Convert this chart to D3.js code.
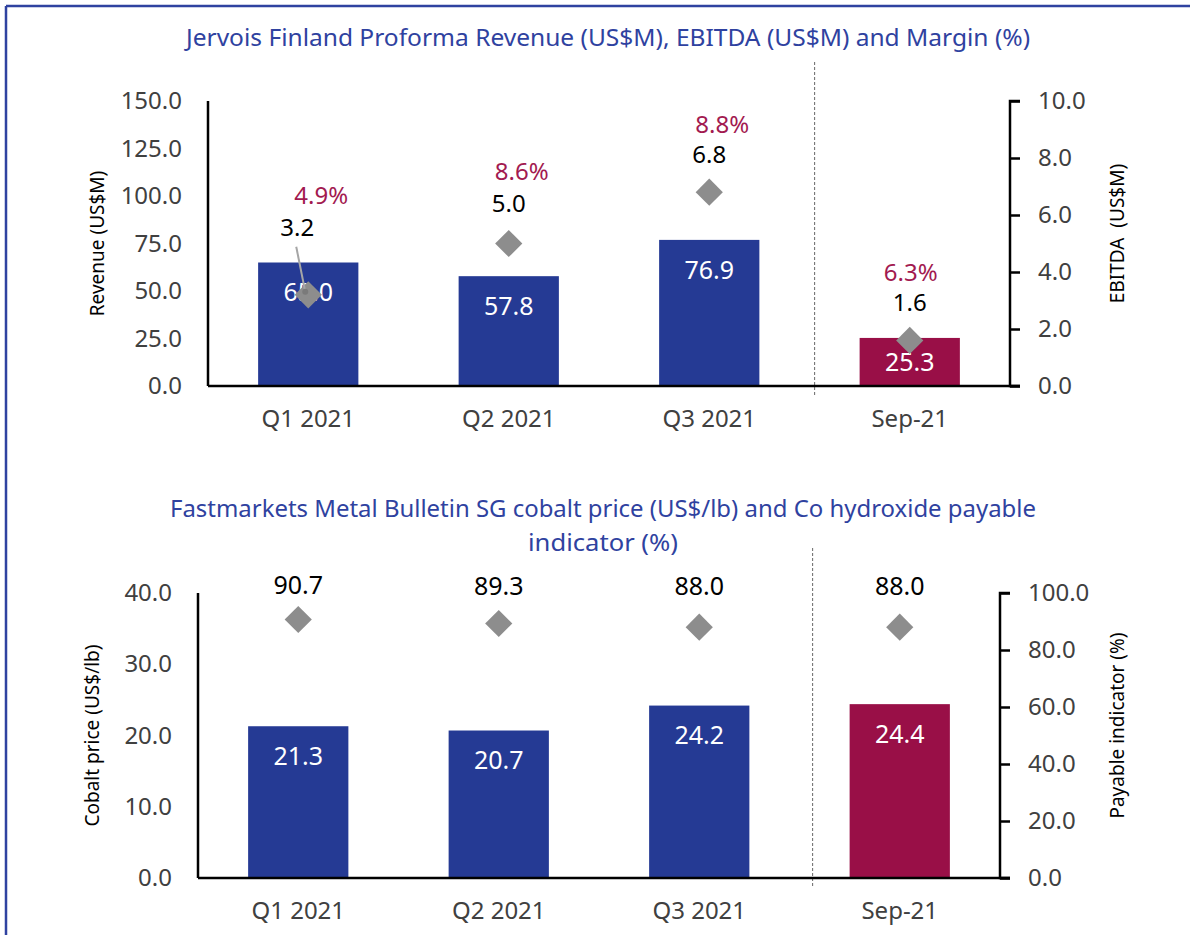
<!DOCTYPE html>
<html>
<head>
<meta charset="utf-8">
<script src="https://cdn.jsdelivr.net/npm/d3@7"></script>
<style>
  body { margin: 0; background: #fff; }
  svg { display: block; font-family: "Noto Sans", sans-serif; }
</style>
</head>
<body>
<svg width="1190" height="935"></svg>
<script>
// data
var categories = ["Q1 2021", "Q2 2021", "Q3 2021", "Sep-21"];
var revenue = [65.0, 57.8, 76.9, 25.3];
var ebitda = [3.2, 5.0, 6.8, 1.6];
var margin = ["4.9%", "8.6%", "8.8%", "6.3%"];
var revenueTicks = [0, 25, 50, 75, 100, 125, 150];
var ebitdaTicks = [0, 2, 4, 6, 8, 10];

var cobalt = [21.3, 20.7, 24.2, 24.4];
var payable = [90.7, 89.3, 88.0, 88.0];
var cobaltTicks = [0, 10, 20, 30, 40];
var payableTicks = [0, 20, 40, 60, 80, 100];

var blue = "#253a94", crimson = "#990f47", grey = "#8d8d8d", titleBlue = "#2f42a0";

var svg = d3.select("svg");

// frame
svg.append("line").attr("x1", 6).attr("x2", 1190).attr("y1", 6).attr("y2", 6)
    .attr("stroke", "#2f42a0").attr("stroke-width", 2.5);
svg.append("line").attr("x1", 6).attr("x2", 6).attr("y1", 6).attr("y2", 935)
    .attr("stroke", "#2f42a0").attr("stroke-width", 2.5);

function panel(o) {
    var g = svg.append("g");

    var x = d3.scaleBand().domain(categories).range([o.left, o.right]).paddingInner(0.5).paddingOuter(0.25);
    var yL = d3.scaleLinear().domain([0, d3.max(o.leftTicks)]).range([o.bottom, o.top]);
    var yR = d3.scaleLinear().domain([0, d3.max(o.rightTicks)]).range([o.bottom, o.top]);

    // titles
    o.title.forEach(function (t, i) {
        g.append("text").attr("x", o.titleX).attr("y", o.titleY + i * 34)
            .attr("text-anchor", "middle").attr("fill", titleBlue)
            .attr("font-size", 24)
            .attr("textLength", t.w).attr("lengthAdjust", "spacingAndGlyphs")
            .text(t.s);
    });

    // separator (between Q3 and Sep-21)
    var sx = x("Sep-21") - o.sepOff;
    g.append("line")
        .attr("x1", sx).attr("x2", sx)
        .attr("y1", o.sepTop).attr("y2", o.bottom + 9)
        .attr("stroke", "#666").attr("stroke-width", 1).attr("stroke-dasharray", "3,2");

    // bars
    g.selectAll(".bar").data(o.bars).enter().append("rect")
        .attr("x", function (d, i) { return x(categories[i]); })
        .attr("width", x.bandwidth())
        .attr("y", function (d) { return yL(d); })
        .attr("height", function (d) { return o.bottom - yL(d); })
        .attr("fill", function (d, i) { return i == 3 ? crimson : blue; });

    g.selectAll(".barlab").data(o.bars).enter().append("text")
        .attr("x", function (d, i) { return x(categories[i]) + x.bandwidth() / 2; })
        .attr("y", function (d) { return Math.min(yL(d) + 30, (yL(d) + o.bottom) / 2); })
        .attr("dy", "0.35em").attr("text-anchor", "middle")
        .attr("fill", "#fff").attr("font-size", 25)
        .text(function (d) { return d.toFixed(1); });

    // axes
    var leftAxis = d3.axisLeft(yL).tickValues(o.leftTicks).tickSize(0).tickPadding(26)
        .tickFormat(d3.format(".1f"));
    var la = g.append("g").attr("transform", "translate(" + o.left + ",0)").call(leftAxis);
    var rightAxis = d3.axisRight(yR).tickValues(o.rightTicks).tickSize(10).tickPadding(o.rPad)
        .tickFormat(d3.format(".1f"));
    var ra = g.append("g").attr("transform", "translate(" + o.right + ",0)").call(rightAxis);
    [la, ra].forEach(function (a) {
        a.select(".domain").attr("stroke", "#000").attr("stroke-width", 2.5);
        a.selectAll(".tick line").attr("stroke", "#000").attr("stroke-width", 2.5);
        a.selectAll("text").attr("font-size", 24).attr("fill", "#404040")
            .attr("font-family", "Noto Sans");
    });
    la.select(".domain").attr("d", "M0," + o.top + "V" + o.bottom);
    ra.select(".domain").attr("d", "M10," + o.top + "H0V" + o.bottom + "H10");

    var xAxis = d3.axisBottom(x).tickSize(0).tickPadding(24);
    var xa = g.append("g").attr("transform", "translate(0," + o.bottom + ")").call(xAxis);
    xa.select(".domain").attr("d", "M" + o.left + ",0H" + (o.right + 10))
        .attr("stroke", "#000").attr("stroke-width", 2.5);
    xa.selectAll("text").attr("font-size", 24).attr("fill", "#404040").attr("font-family", "Noto Sans");

    // axis titles
    g.append("text").attr("transform", "translate(" + o.lTitleX + "," + (o.top + o.bottom) / 2 + ") rotate(-90)")
        .attr("text-anchor", "middle").attr("dy", "0.35em").attr("font-size", 19).attr("fill", "#000")
        .text(o.leftTitle);
    g.append("text").attr("transform", "translate(1117," + ((o.top + o.bottom) / 2 - 10) + ") rotate(-90)")
        .attr("text-anchor", "middle").attr("dy", "0.35em").attr("font-size", 19).attr("fill", "#000")
        .style("white-space", "pre")
        .text(o.rightTitle);

    // diamonds
    var diamond = d3.symbol().type(d3.symbolSquare).size(370);
    g.selectAll(".pt").data(o.points).enter().append("path")
        .attr("d", diamond)
        .attr("transform", function (d, i) {
            return "translate(" + (x(categories[i]) + x.bandwidth() / 2) + "," + yR(d) + ") rotate(45)";
        })
        .attr("fill", grey);

    return { x: x, yL: yL, yR: yR, g: g };
}

// top chart
var top1 = panel({
    left: 208, right: 1010, top: 101, bottom: 386,
    title: [{ s: "Jervois Finland Proforma Revenue (US$M), EBITDA (US$M) and Margin (%)", w: 844 }],
    titleX: 608, titleY: 46, sepTop: 62, sepOff: 45,
    bars: revenue, points: ebitda,
    leftTicks: revenueTicks, rightTicks: ebitdaTicks, rPad: 18,
    leftTitle: "Revenue (US$M)", rightTitle: "EBITDA  (US$M)", lTitleX: 97
});

var cx1 = function (i) { return top1.x(categories[i]) + top1.x.bandwidth() / 2; };
var labY = function (i) { return top1.yR(ebitda[i]) - 40 - (i == 0 ? 27 : 0); };

// leader line for the first EBITDA label
top1.g.append("line")
    .attr("x1", cx1(0) - 12).attr("y1", labY(0) + 19)
    .attr("x2", cx1(0) - 3).attr("y2", top1.yR(ebitda[0]) - 3)
    .attr("stroke", "#a6a6a6").attr("stroke-width", 2);
top1.g.append("circle").attr("cx", cx1(0) - 3).attr("cy", top1.yR(ebitda[0]) - 3).attr("r", 3)
    .attr("fill", "#7a7a7a");

top1.g.selectAll(".eb").data(ebitda).enter().append("text")
    .attr("x", function (d, i) { return cx1(i) - (i == 0 ? 11 : 0); })
    .attr("y", function (d, i) { return labY(i) + (ebitda[i] > 6 || i == 3 ? 2 : 0); })
    .attr("dy", "0.35em").attr("text-anchor", "middle").attr("font-size", 24).attr("fill", "#000")
    .text(function (d) { return d.toFixed(1); });

top1.g.selectAll(".mg").data(margin).enter().append("text")
    .attr("x", function (d, i) { return cx1(i) + (i == 3 ? 1 : 13); })
    .attr("y", function (d, i) { return labY(i) - (ebitda[i] > 6 || i == 3 ? 28 : 32); })
    .attr("dy", "0.35em").attr("text-anchor", "middle").attr("font-size", 24).attr("fill", "#a21a50")
    .text(function (d) { return d; });

// bottom chart
var bot = panel({
    left: 198, right: 1000, top: 593, bottom: 878,
    title: [{ s: "Fastmarkets Metal Bulletin SG cobalt price (US$/lb) and Co hydroxide payable", w: 866 },
            { s: "indicator (%)", w: 150 }],
    titleX: 603, titleY: 517, sepTop: 548, sepOff: 37,
    bars: cobalt, points: payable,
    leftTicks: cobaltTicks, rightTicks: payableTicks, rPad: 18,
    leftTitle: "Cobalt price (US$/lb)", rightTitle: "Payable indicator (%)", lTitleX: 92
});

bot.g.selectAll(".pl").data(payable).enter().append("text")
    .attr("x", function (d, i) { return bot.x(categories[i]) + bot.x.bandwidth() / 2; })
    .attr("y", function (d) { return Math.min(bot.yR(d) - 34, 593 - 7); })
    .attr("dy", "0.35em").attr("text-anchor", "middle").attr("font-size", 25).attr("fill", "#000")
    .text(function (d) { return d.toFixed(1); });
</script>
</body>
</html>
